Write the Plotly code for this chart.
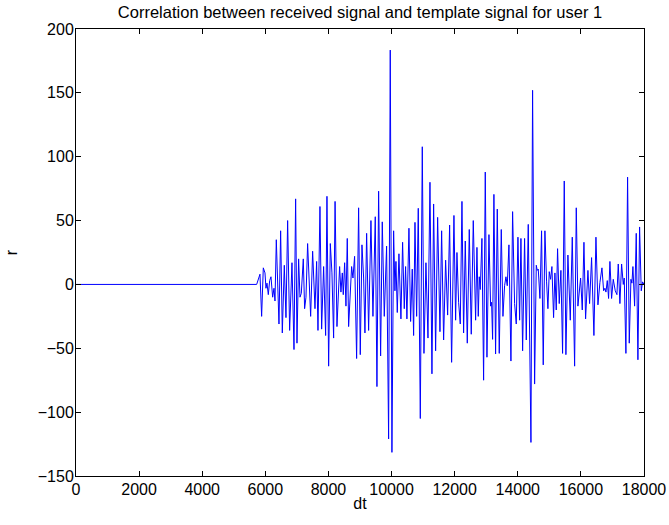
import plotly.graph_objects as go

# time axis (dt) and correlation values (r)
dt = [0, 5725, 5830, 5883, 5936, 5989, 6020, 6052, 6094, 6137, 6179, 6232, 6274, 6306,
      6348, 6432, 6485, 6538, 6601, 6654, 6707, 6770, 6844, 6908, 6960, 7003, 7055,
      7098, 7140, 7203, 7245, 7288, 7340, 7436, 7499, 7573, 7626, 7668, 7731, 7784,
      7847, 7911, 7953, 8006, 8059, 8111, 8164, 8210,
      8270, 8312, 8354, 8396, 8439, 8470, 8513, 8555, 8597, 8639, 8692, 8734, 8777,
      8829, 8893, 8956, 9009, 9062, 9115, 9157, 9210, 9273, 9347, 9410, 9484, 9537,
      9590, 9653, 9706, 9769, 9843, 9907, 9959, 10012, 10065, 10107, 10139, 10181,
      10234, 10297, 10350, 10403, 10445, 10487, 10551, 10604, 10656,
      10699, 10742, 10795, 10847, 10911, 10974, 11027, 11090, 11154, 11217, 11280,
      11333, 11396, 11460, 11534, 11587, 11650, 11713, 11777, 11840, 11903, 11977,
      12030, 12072, 12125, 12178, 12231, 12283, 12336, 12400, 12463, 12526, 12590,
      12664, 12706, 12748, 12780, 12811, 12864, 12917, 12970, 13023, 13086,
      13139, 13170, 13202, 13244, 13297, 13350, 13413, 13477, 13530, 13582, 13625,
      13667, 13720, 13783, 13836, 13899, 13952, 14005, 14058, 14100, 14153, 14216,
      14269, 14332, 14417, 14469, 14533, 14586, 14617, 14649, 14702, 14754, 14807,
      14860, 14913, 14955, 14997, 15040, 15082, 15135, 15177, 15219, 15261, 15314,
      15367, 15420, 15473, 15525, 15589,
      15664, 15727, 15801, 15854, 15906, 15991, 16044, 16097, 16149, 16223, 16276,
      16339, 16413, 16477, 16540, 16603, 16667, 16720, 16762, 16794, 16836, 16878,
      16920, 16973, 17026, 17089, 17142, 17184, 17237, 17290, 17343, 17374, 17427,
      17480, 17533, 17586, 17617, 17649, 17702, 17754, 17807, 17860, 17913, 17955,
      18000]

r = [0, 0, 8, -25, 13, 9, -3, 1, -8, 3, 6, -10, -3, -13,
     35, -31, 42, -38, 15, -26, 50, -36, 17, -51, 67, -46, 20,
     -10, -7, 20, -19, -10, 32, -25, 26, -19, 18, -36, 61, -35,
     14, -40, 69, -64, 32, 9, -42, 65,
     -33, -9, 14, -6, 9, -8, 17, -17, 36, -33, -6, 14, 5,
     22, -58, 60, -55, 31, 5, -38, 40, -36, 50, -25, 53, -80,
     73, -56, 49, -25, 30, -121, 183.5, -131.5, 42, -5, 18, -22,
     24, -27, 33, -19, 14, -27, 44, -29, 12,
     -40, 48.6, -25, 59.6, -105, 107.8, -54, 17, -42, 80, -70,
     63, -52, 52.5, -37, 42, -43.5, 19, -24, 46.5, -61, 54,
     -28, 25, -14, -31, 65, -38, 34, -46, 43, -39, 50,
     -28, 29, -25, 6, -4, 36, -75, 88, -57, 39,
     -17, -14, -43, 70.5, -54.5, 59, -54, 43, -25, -1, 6,
     -1, 31, -60, 57, -15, -31, 37, -28, 36, -52, 36,
     -43.5, 47, -123.7, 152, -78, 15, 11, 12, -11, 42, -63,
     42, 2, -19, 10, 4, 14, -26, 9, -20, 28, -15,
     11, -54, 81, -55, 23,
     -28, 37, -64, 60, -17, 5, -20, 33, -27, 11, -15,
     21, -40, 37, -16, 1.5, 13, -5, -3, -6, 3, -11,
     18, -11, 4, -5, -8, 16, -15, 16, 0, 5, -54,
     84, -46, 4, 1, 14, -17, 40, -59, 45, -5, 2,
     0]

x_ticks = [0, 2000, 4000, 6000, 8000, 10000, 12000, 14000, 16000, 18000]
x_tick_labels = ["0", "2000", "4000", "6000", "8000", "10000", "12000", "14000", "16000", "18000"]
y_ticks = [-150, -100, -50, 0, 50, 100, 150, 200]
y_tick_labels = ["\u2212150", "\u2212100", "\u221250", "0", "50", "100", "150", "200"]

FONT = "Liberation Sans, Arial, sans-serif"

fig = go.Figure()
fig.add_trace(go.Scatter(x=dt, y=r, mode="lines",
                         line=dict(color="#0000ff", width=1),
                         showlegend=False, hoverinfo="skip"))

axis_common = dict(showgrid=False, zeroline=False, showline=True,
                   linecolor="black", linewidth=1, mirror="ticks",
                   ticks="inside", ticklen=5, tickcolor="black", tickwidth=1,
                   automargin=False,
                   tickfont=dict(family=FONT, size=16, color="black"))

fig.update_layout(
    width=669, height=525,
    margin=dict(l=76, r=25, t=29, b=49),
    paper_bgcolor="white", plot_bgcolor="white",
    title=dict(text="Correlation between received signal and template signal for user 1",
               x=0.5, xref="paper", xanchor="center",
               y=1 - 12 / 525, yref="container", yanchor="middle",
               font=dict(family=FONT, size=16.5, color="black")),
    xaxis=dict(range=[0, 18000], tickvals=x_ticks, ticktext=x_tick_labels,
               ticklabelstandoff=-1,
               title=dict(text="dt", standoff=0,
                          font=dict(family=FONT, size=16, color="black")),
               **axis_common),
    yaxis=dict(range=[-150, 200], tickvals=y_ticks, ticktext=y_tick_labels,
               ticklabelstandoff=-2,
               title=dict(text="r", standoff=16,
                          font=dict(family=FONT, size=16, color="black")),
               **axis_common),
)

fig.write_html("out.html")
